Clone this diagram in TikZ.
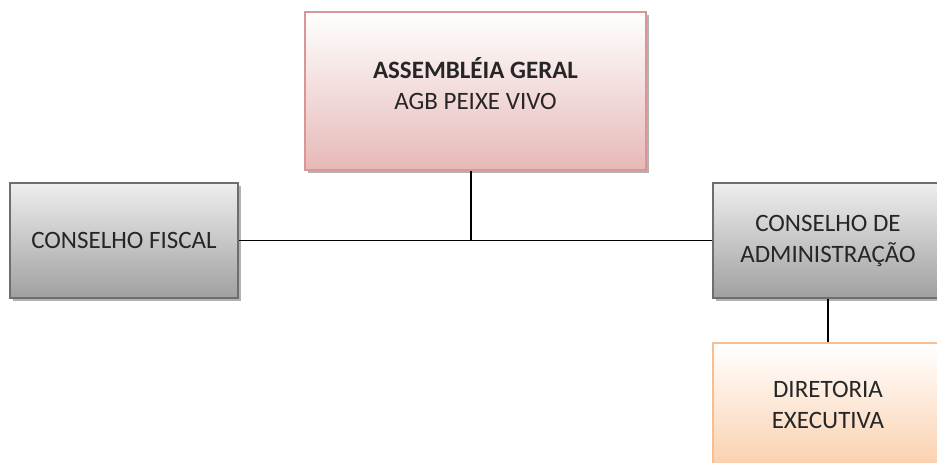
\documentclass[tikz,border=0pt]{standalone}
\usepackage{fontspec}
\setmainfont{Carlito}
\usetikzlibrary{shadows}
\definecolor{pinkborder}{HTML}{D99694}
\definecolor{pinkfill}{HTML}{E6B9B8}
\definecolor{grayborder}{HTML}{6E6E6E}
\definecolor{graytop}{HTML}{EEEEEE}
\definecolor{graybottom}{HTML}{A0A0A0}
\definecolor{orangeborder}{HTML}{F9BE8F}
\definecolor{orangefill}{HTML}{FAD0AE}
\definecolor{textc}{HTML}{262626}
\tikzset{
  orgbox/.style={draw, line width=2pt, rectangle, align=center, text=textc,
    font=\fontsize{25}{31}\selectfont, inner sep=0pt,
    drop shadow={shadow xshift=3pt, shadow yshift=-3pt, fill=black, opacity=0.3}},
  pinkbox/.style={orgbox, draw=pinkborder, top color=white, bottom color=pinkfill},
  graybox/.style={orgbox, draw=grayborder, top color=graytop, bottom color=graybottom},
  orangebox/.style={orgbox, draw=orangeborder, top color=white, bottom color=orangefill},
  link/.style={draw=black, line width=1.2pt}
}
\begin{document}
\begin{tikzpicture}[x=1pt,y=-1pt]
\useasboundingbox (0,0) rectangle (937,463);
\clip (0,0) rectangle (937,463);
\node[pinkbox, minimum width=341pt, minimum height=158pt] (ag) at (475.5,91)
  {\textbf{ASSEMBLÉIA GERAL}\\AGB PEIXE VIVO\\[-16pt]};
\node[graybox, minimum width=228pt, minimum height=115pt] (cf) at (124,240.5)
  {CONSELHO FISCAL};
\node[graybox, minimum width=230pt, minimum height=115pt] (ca) at (828,240.5)
  {CONSELHO DE\\ADMINISTRAÇÃO};
\node[orangebox, minimum width=230pt, minimum height=124pt] (de) at (828,405)
  {DIRETORIA\\EXECUTIVA};
\coordinate (top) at ([xshift=-4.5pt]ag.south);
\coordinate (j) at (top |- cf.east);
\draw[link] (top) -- (j);
\draw[link] (cf.east) -- (ca.west);
\draw[link] (ca.south) -- (de.north);
\end{tikzpicture}
\end{document}
